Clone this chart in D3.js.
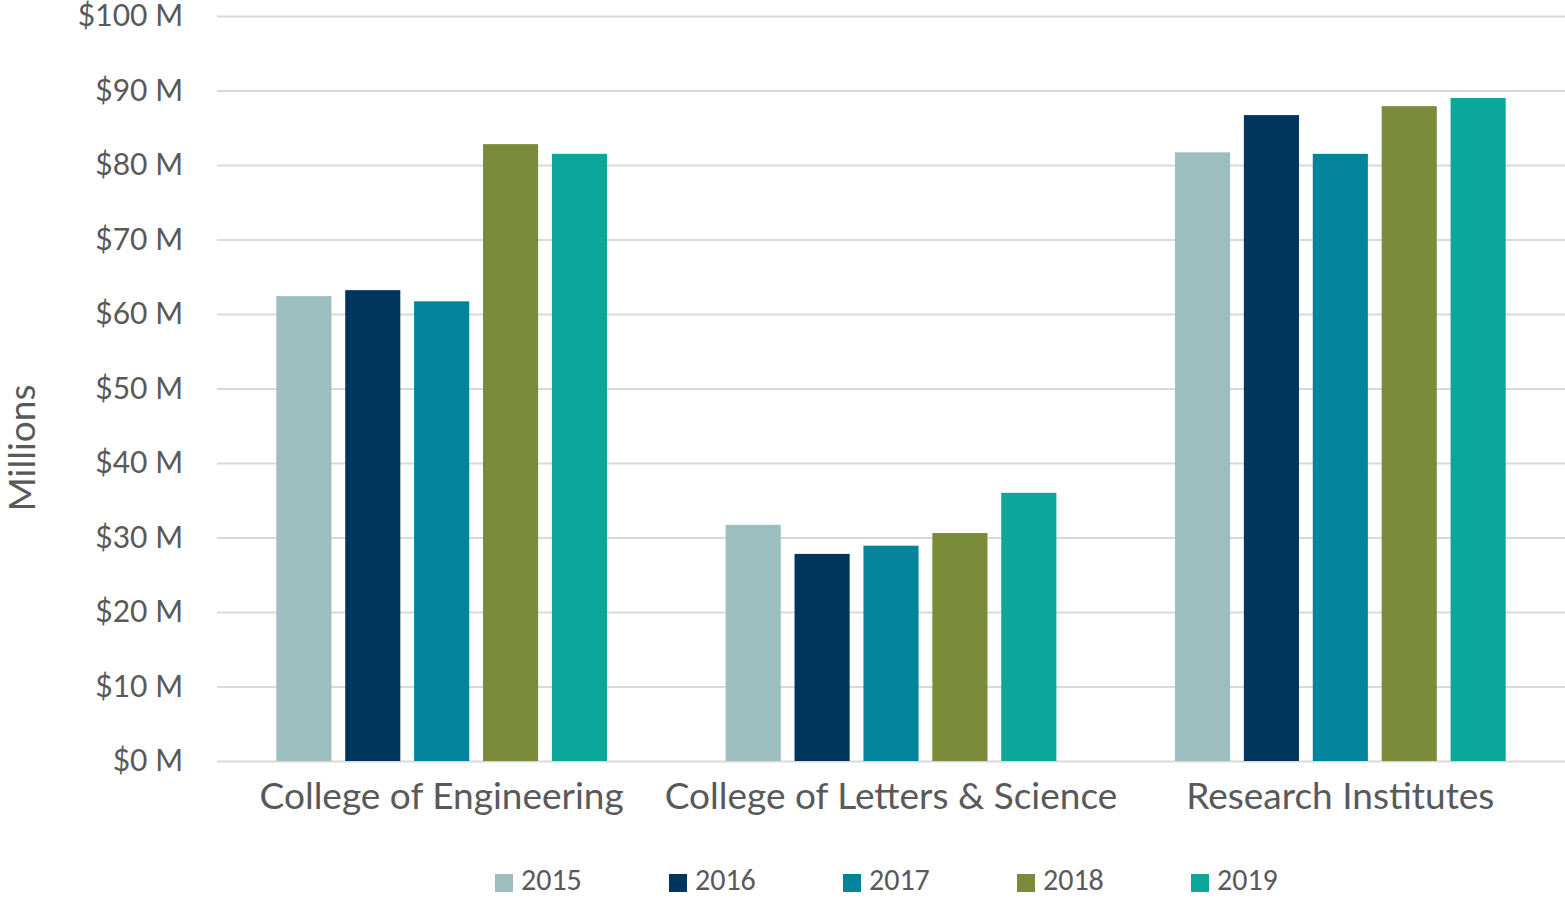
<!DOCTYPE html>
<html>
<head>
<meta charset="utf-8">
<script src="https://cdn.jsdelivr.net/npm/d3@7"></script>
<style>
  html, body { margin: 0; padding: 0; background: #fff; }
  svg { display: block; }
</style>
</head>
<body>
<svg id="chart" width="1565" height="898"></svg>
<script>
const categories = ["College of Engineering", "College of Letters & Science", "Research Institutes"];
const years = ["2015", "2016", "2017", "2018", "2019"];
const values2015 = [62.4, 31.7, 81.7];
const values2016 = [63.2, 27.8, 86.7];
const values2017 = [61.7, 28.9, 81.5];
const values2018 = [82.8, 30.6, 87.9];
const values2019 = [81.5, 36.0, 89.0];
const yTicks = [0, 10, 20, 30, 40, 50, 60, 70, 80, 90, 100];
const colors = ["#9DBEBF", "#00365E", "#03849B", "#7A8C39", "#0CA69A"];

(function () {
const series = [values2015, values2016, values2017, values2018, values2019];

const svg = d3.select("#chart");
const mLeft = 217, mRight = 1565, mTop = 16, mBottom = 761;
const axisFont = "Lato, 'Open Sans', sans-serif";
const textColor = "#595959";

const y = d3.scaleLinear().domain([0, 100]).range([mBottom, mTop]);
const x0 = d3.scaleBand().domain(categories).range([mLeft, mRight]).paddingInner(0.264).paddingOuter(0.132);
const x1 = d3.scaleBand().domain(years).range([0, x0.bandwidth()]).paddingInner(0.2).paddingOuter(0);
const color = d3.scaleOrdinal().domain(years).range(colors);

// gridlines
const yAxis = d3.axisLeft(y).tickValues(yTicks).tickSize(-(mRight - mLeft)).tickFormat(d => `$${d} M`).tickPadding(34);
const gy = svg.append("g").attr("transform", `translate(${mLeft},0)`).call(yAxis);
gy.select(".domain").remove();
gy.selectAll(".tick line").attr("stroke", "#D9D9D9").attr("stroke-width", 2);
gy.selectAll(".tick text").attr("fill", textColor).style("font-family", axisFont).style("font-size", "30px");

// bars
const groups = svg.append("g").selectAll("g").data(categories).join("g")
  .attr("transform", d => `translate(${x0(d)},0)`);
groups.selectAll("rect").data((d, i) => years.map((yr, j) => ({ yr, v: series[j][i] })))
  .join("rect")
  .attr("x", d => x1(d.yr))
  .attr("width", x1.bandwidth())
  .attr("y", d => y(d.v))
  .attr("height", d => y(0) - y(d.v))
  .attr("fill", d => color(d.yr));

// x axis labels
const xAxis = d3.axisBottom(x0).tickSize(0);
const gx = svg.append("g").attr("transform", `translate(0,${mBottom})`).call(xAxis);
gx.select(".domain").remove();
gx.selectAll(".tick text").attr("y", 48).attr("dy", null)
  .attr("fill", textColor).style("font-family", axisFont).style("font-size", "37px");

// y axis title
svg.append("text")
  .attr("transform", `translate(35,448) rotate(-90)`)
  .attr("text-anchor", "middle")
  .attr("fill", textColor)
  .style("font-family", axisFont).style("font-size", "37px")
  .text("Millions");

// legend
const legendX = d3.scalePoint().domain(years).range([495, 1191]);
const lg = svg.append("g").selectAll("g").data(years).join("g")
  .attr("transform", d => `translate(${legendX(d)},874)`);
lg.append("rect").attr("width", 18).attr("height", 18).attr("fill", d => color(d));
lg.append("text").attr("x", 26).attr("y", 16)
  .attr("fill", textColor)
  .style("font-family", "'Liberation Sans Narrow', Carlito, 'Open Sans', sans-serif")
  .style("font-size", "30px")
  .text(d => d);
})();
</script>
</body>
</html>
